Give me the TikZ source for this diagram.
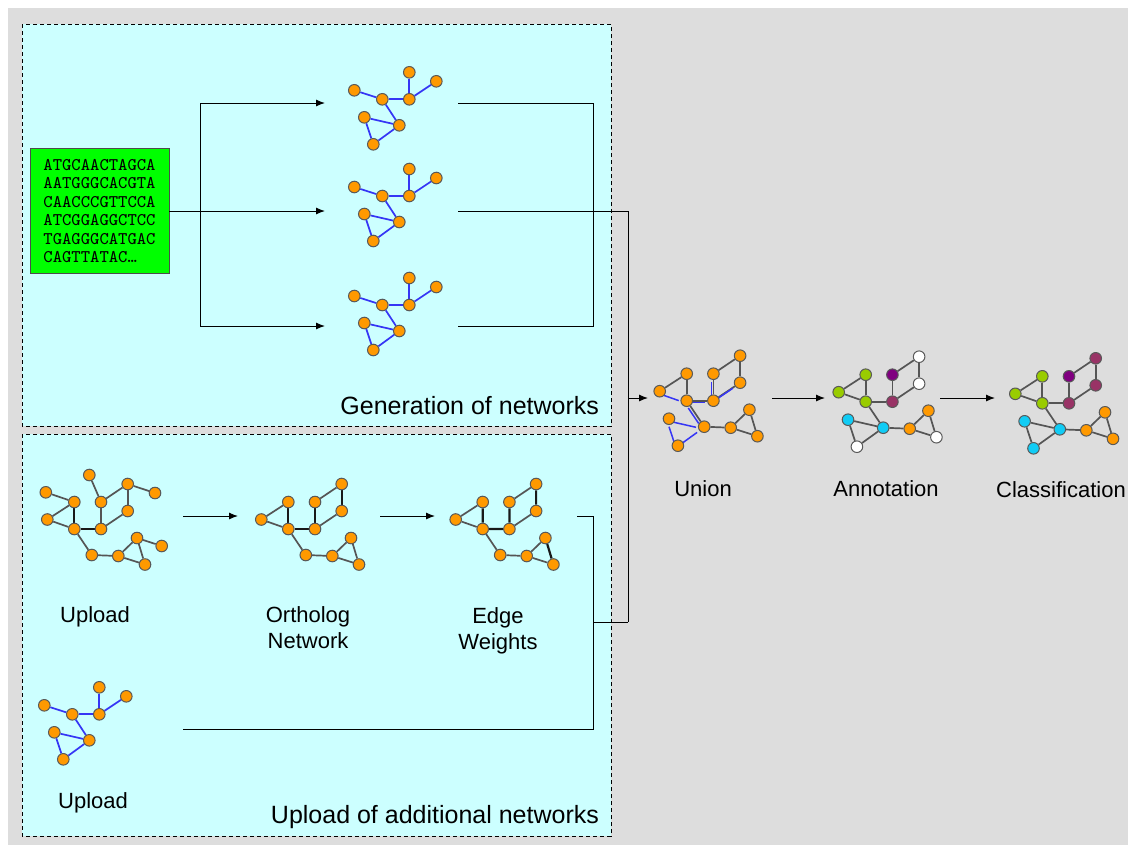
\documentclass[tikz,border=0pt]{standalone}
\usepackage{fontspec}
\setmainfont{Liberation Sans}
\usetikzlibrary{arrows.meta}

\pgfdeclarelayer{back}
\pgfdeclarelayer{edges}
\pgfsetlayers{back,edges,main}

\definecolor{panel}{HTML}{DDDDDD}
\definecolor{boxfill}{HTML}{CCFFFF}
\definecolor{seqgreen}{HTML}{00FF00}
\definecolor{vorange}{HTML}{FF9900}
\definecolor{vlime}{HTML}{99CC00}
\definecolor{vpurple}{HTML}{800080}
\definecolor{vmaroon}{HTML}{993366}
\definecolor{vcyan}{HTML}{11CCF5}
\definecolor{edgegray}{HTML}{555555}
\definecolor{edgeblue}{HTML}{3535F5}

\tikzset{
  vtx/.style={circle, draw=black!65, line width=0.5pt, fill=#1, inner sep=0pt, minimum size=5.8pt},
  vtx/.default=vorange,
  gedge/.style={draw=edgegray, line width=0.85pt},
  hedge/.style={draw=black!90, line width=1.1pt},
  bedge/.style={draw=edgeblue, line width=0.85pt},
  flow/.style={line width=0.5pt},
  arr/.style={flow, -{Latex[length=4.5pt,width=3.5pt]}},
  region/.style={draw, dash pattern=on 2pt off 1.5pt, fill=boxfill, line width=0.5pt},
  seqbox/.style={draw=black!70, fill=seqgreen, minimum width=69.5pt, minimum height=62.5pt,
    inner sep=0pt, align=left, font=\ttfamily\fontsize{8.9}{9.2}\selectfont},
  lbl/.style={font=\fontsize{11}{13}\selectfont, align=center},
  title/.style={font=\fontsize{12.5}{15}\selectfont, anchor=east},
}

% one generated network, placed by its central vertex b
\newcommand{\smallnet}[3]{%
  \begin{scope}[shift={(#2,#3)}]
    \foreach \n/\x/\y in {a/-28/-9, b/0/0, c/27/0, d/27/-27, e/54/-18, f/-18/18, g/17/26, h/-9/45}
      \node[vtx] (#1\n) at (\x,\y) {};
  \end{scope}
  \begin{pgfonlayer}{edges}
    \foreach \p/\q in {a/b, b/c, c/d, c/e, b/g, f/g, f/h, g/h}
      \draw[bedge] (#1\p) -- (#1\q);
  \end{pgfonlayer}}

\begin{document}
\begin{tikzpicture}[x=0.5pt, y=-0.5pt]
  \useasboundingbox (0,0) rectangle (1128,852);

  \begin{pgfonlayer}{back}
    \fill[white] (0,0) rectangle (1128,852);
    \fill[panel] (8,8) rectangle (1128,845);
    \draw[region] (22,24) rectangle (611,426);
    \draw[region] (22,434) rectangle (611,836);
  \end{pgfonlayer}

  % sequence input
  \node[seqbox] (seq) at (99.5,211) {ATGCAACTAGCA\\AATGGGCACGTA\\CAACCCGTTCCA\\ATCGGAGGCTCC\\TGAGGGCATGAC\\CAGTTATAC…};

  \smallnet{sa}{382.3}{99.3}
  \smallnet{sb}{382.3}{196}
  \smallnet{sc}{382.3}{305}
  \smallnet{sd}{72.3}{714.3}

  % uploaded network
  \begin{scope}[shift={(74.3,529)}]
    \foreach \n/\x/\y in {1/-28.5/-36.7, 2/0/-27, 3/-27/-9.5, 4/0/0, 5/15/-54, 6/26.7/-27, 7/26.7/0,
        8/53.4/-45, 9/53.4/-18, 10/80.7/-36, 11/17.5/26, 12/44/27, 13/62.7/9, 14/87.4/17, 15/70.7/35.5}
      \node[vtx] (up\n) at (\x,\y) {};
  \end{scope}

  % ortholog network
  \begin{scope}[shift={(288.3,529)}]
    \foreach \n/\x/\y in {2/0/-27, 3/-27/-9.5, 4/0/0, 6/26.7/-27, 7/26.7/0, 8/53.4/-45, 9/53.4/-18,
        11/17.5/26, 12/44/27, 13/62.7/9, 15/70.7/35.5}
      \node[vtx] (orth\n) at (\x,\y) {};
  \end{scope}

  % weighted network
  \begin{scope}[shift={(482.7,529)}]
    \foreach \n/\x/\y in {2/0/-27, 3/-27/-9.5, 4/0/0, 6/26.7/-27, 7/26.7/0, 8/53.4/-45, 9/53.4/-18,
        11/17.5/26, 12/44/27, 13/62.7/9, 15/70.7/35.5}
      \node[vtx] (wt\n) at (\x,\y) {};
  \end{scope}

  % union
  \begin{scope}[shift={(686.7,400.7)}]
    \foreach \n/\x/\y in {2/0/-27, 3/-27/-9.5, 4/0/0, 6/26.7/-27, 7/26.7/0, 8/53.4/-45, 9/53.4/-18,
        11/17.5/26, 12/44/27, 13/62.7/9, 15/70.7/35.5, f/-17.7/18, h/-8.8/45}
      \node[vtx] (uni\n) at (\x,\y) {};
  \end{scope}

  % annotation
  \begin{scope}[shift={(865.7,401.7)}]
    \foreach \n/\x/\y/\c in {2/0/-27/vlime, 3/-27/-9.5/vlime, 4/0/0/vlime, 6/26.7/-27/vpurple,
        7/26.7/0/vmaroon, 8/53.4/-45/white, 9/53.4/-18/white, 11/17.5/26/vcyan, 12/44/27/vorange,
        13/62.7/9/vorange, 15/70.7/35.5/white, f/-17.7/18/vcyan, h/-8.8/45/white}
      \node[vtx=\c] (ann\n) at (\x,\y) {};
  \end{scope}

  % classification
  \begin{scope}[shift={(1042.3,403.3)}]
    \foreach \n/\x/\y/\c in {2/0/-27/vlime, 3/-27/-9.5/vlime, 4/0/0/vlime, 6/26.7/-27/vpurple,
        7/26.7/0/vmaroon, 8/53.4/-45/vmaroon, 9/53.4/-18/vmaroon, 11/17.5/26/vcyan, 12/44/27/vorange,
        13/62.7/9/vorange, 15/70.7/35.5/vorange, f/-17.7/18/vcyan, h/-8.8/45/vcyan}
      \node[vtx=\c] (cls\n) at (\x,\y) {};
  \end{scope}

  \begin{pgfonlayer}{edges}
    \foreach \p/\q in {1/2, 3/2, 3/4, 5/6, 6/7, 6/8, 8/9, 9/7, 8/10, 4/11, 11/12, 12/13, 12/15, 13/15, 13/14}
      \draw[gedge] (up\p) -- (up\q);
    \draw[hedge] (up2) -- (up4) -- (up7);
    \foreach \p/\q in {3/2, 3/4, 6/8, 9/7, 4/11, 11/12, 12/13, 12/15, 13/15}
      \draw[gedge] (orth\p) -- (orth\q);
    \draw[hedge] (orth2) -- (orth4) -- (orth7) -- (orth6) (orth8) -- (orth9);
    \foreach \p/\q in {3/2, 3/4, 6/8, 9/7, 4/11, 11/12, 12/13, 12/15}
      \draw[gedge] (wt\p) -- (wt\q);
    \draw[hedge] (wt2) -- (wt4) -- (wt7) -- (wt6) (wt8) -- (wt9) (wt13) -- (wt15);
    \foreach \p/\q in {3/2, 2/4, 4/7, 6/7, 6/8, 8/9, 9/7, 4/11, 11/12, 12/13, 12/15, 13/15}
      \draw[gedge] (uni\p) -- (uni\q);
    \begin{scope}[transform canvas={shift={(-1pt,-1pt)}}]
      \foreach \p/\q in {3/4, 4/7, 7/6, 7/9, 4/11, f/11, f/h, h/11}
        \draw[bedge, line width=0.75pt] (uni\p) -- (uni\q);
    \end{scope}
    \foreach \p/\q in {3/2, 3/4, 2/4, 4/7, 6/7, 6/8, 8/9, 9/7, 4/11, 11/f, f/h, h/11, 11/12, 12/13, 12/15, 13/15} {
      \draw[gedge] (ann\p) -- (ann\q);
      \draw[gedge] (cls\p) -- (cls\q);
    }
  \end{pgfonlayer}

  % flow of the pipeline
  \coordinate (split) at (200,211);
  \coordinate (in1) at (325,103);
  \coordinate (in2) at (325,211);
  \coordinate (in3) at (325,326);
  \coordinate (out1) at (458,103);
  \coordinate (out2) at (458,211);
  \coordinate (out3) at (458,326);
  \coordinate (bus) at (628,398);
  \coordinate (bus2) at (628,622);
  \coordinate (inu) at (648,398);
  \coordinate (out4) at (577,516);
  \coordinate (out5) at (183,729);

  \draw[arr] (seq.east) -- (in2);
  \draw[arr] (split) |- (in1);
  \draw[arr] (split) |- (in3);
  \draw[flow] (out1) -- ++(135,0) |- (out3);
  \draw[flow] (out2) -| (bus2);
  \draw[arr] (bus) -- (inu);
  \draw[flow] (out4) -- ++(16,0) |- (out5);
  \draw[flow] (bus2) -- ++(-35,0);

  \coordinate (up-out) at (183,516);
  \coordinate (orth-in) at (238,516);
  \coordinate (orth-out) at (380,516);
  \coordinate (wt-in) at (435,516);
  \coordinate (uni-out) at (772,398);
  \coordinate (ann-in) at (825,398);
  \coordinate (ann-out) at (940,398);
  \coordinate (cls-in) at (995,398);
  \draw[arr] (up-out) -- (orth-in);
  \draw[arr] (orth-out) -- (wt-in);
  \draw[arr] (uni-out) -- (ann-in);
  \draw[arr] (ann-out) -- (cls-in);

  % labels
  \node[lbl] (lup) at (95,617) {Upload};
  \node[lbl] (lorth) at (308,628) {Ortholog\\Network};
  \node[lbl] (lwt) at (498,631) {Edge\\Weights};
  \node[lbl] (lup2) at (93,803) {Upload};
  \node[lbl] (luni) at (703,489) {Union};
  \node[lbl] (lann) at (886,489) {Annotation};
  \node[lbl] (lcls) at (1061,490) {Classification};
  \node[title] (tgen) at (606,406) {Generation of networks};
  \node[title] (tup) at (606,817) {Upload of additional networks};
\end{tikzpicture}
\end{document}
